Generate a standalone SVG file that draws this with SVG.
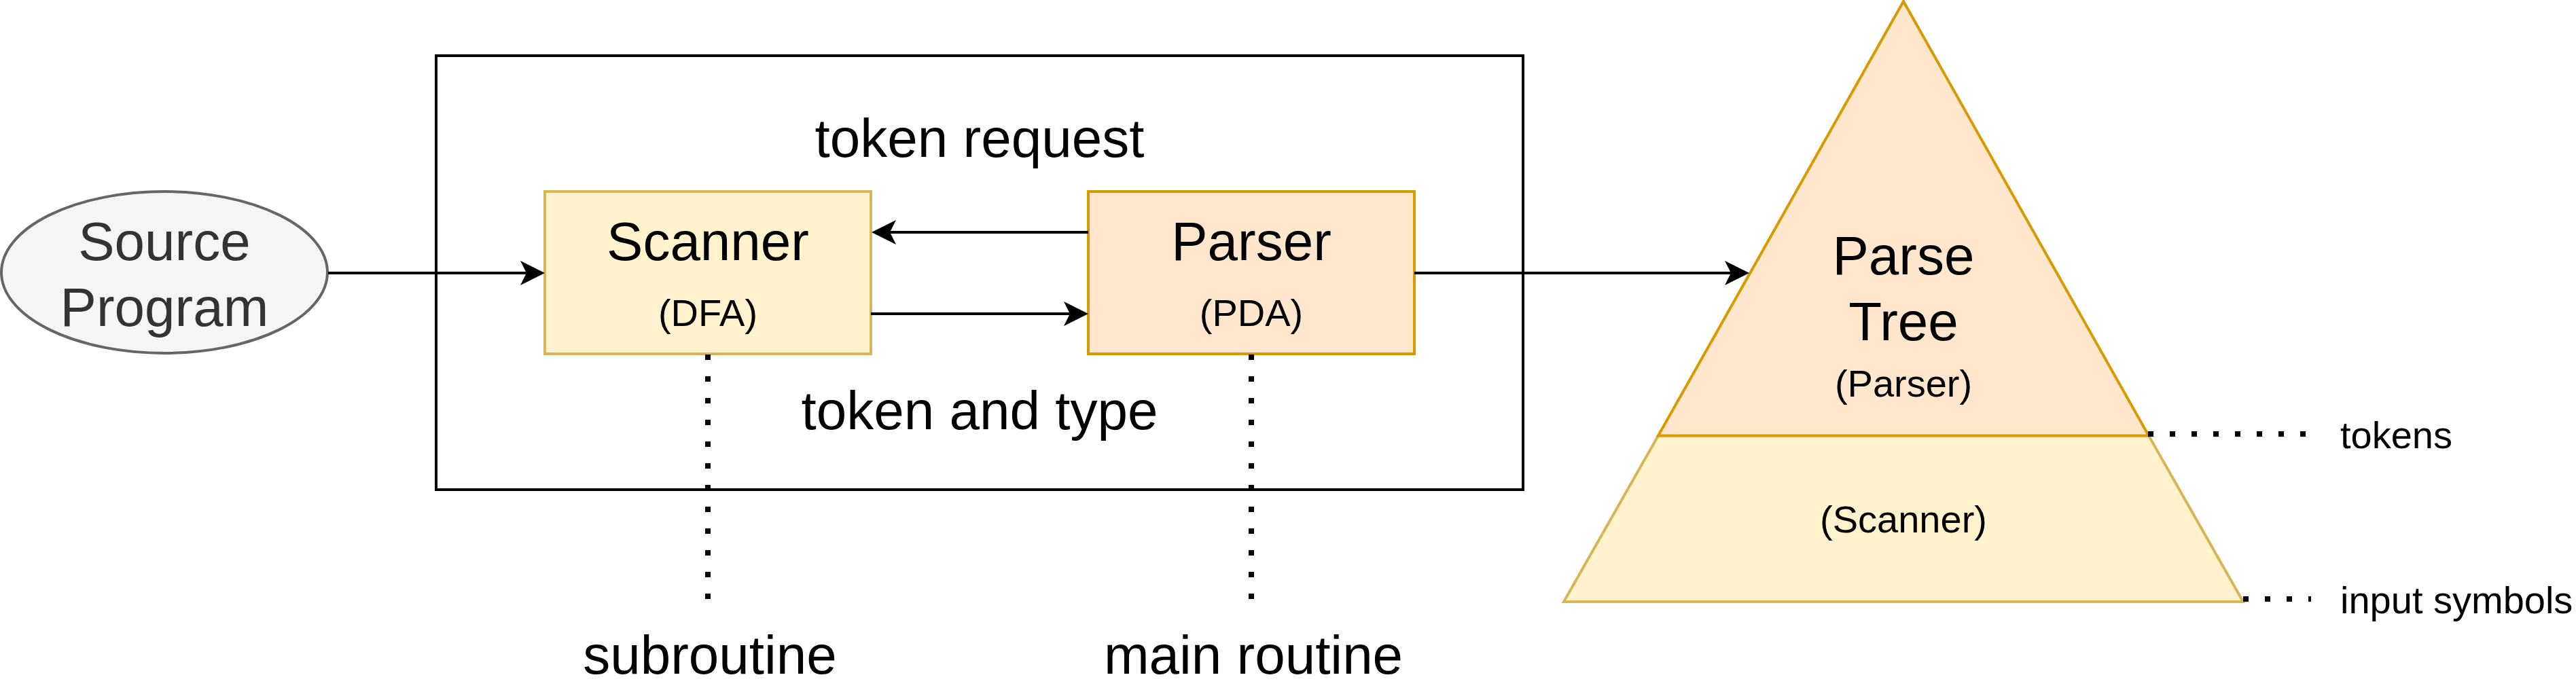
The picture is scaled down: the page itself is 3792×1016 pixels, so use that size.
<svg xmlns="http://www.w3.org/2000/svg" width="3792" height="1016" viewBox="0 0 3792 1016">
  <style>
    .t { font-family: "Liberation Sans", Arial, sans-serif; text-anchor: middle; fill: #000000; }
    .big { font-size: 80px; }
    .small { font-size: 56px; }
    .left { text-anchor: start; }
    .edge { stroke: #000000; stroke-width: 4; fill: none; }
    .dot { stroke: #000000; stroke-width: 8; fill: none; stroke-dasharray: 8 24; }
    .yellow { fill: #fff2cc; stroke: #d6b656; stroke-width: 4; }
    .orange { fill: #ffe6cc; stroke: #d79b00; stroke-width: 4; }
  </style>
  <defs>
    <marker id="arrow" markerUnits="userSpaceOnUse" viewBox="0 0 36 36" markerWidth="36" markerHeight="36" refX="9" refY="18" orient="auto">
      <path d="M36,18 L0,0 L9,18 L0,36 Z" fill="#000000"/>
    </marker>
  </defs>
  <rect width="3792" height="1016" fill="#ffffff"/>

  <g id="container">
    <rect x="642" y="82" width="1600" height="639" fill="none" stroke="#000000" stroke-width="4"/>
  </g>

  <g id="source-program">
    <ellipse cx="242" cy="401" rx="240" ry="119" fill="#f5f5f5" stroke="#666666" stroke-width="4"/>
    <text class="t big" x="242" y="383" fill="#333333" style="fill:#333333">Source</text>
    <text class="t big" x="242" y="480" style="fill:#333333">Program</text>
  </g>

  <g id="scanner">
    <rect class="yellow" x="802" y="282" width="480" height="239"/>
    <text class="t big" x="1042" y="383">Scanner</text>
    <text class="t small" x="1042" y="480">(DFA)</text>
  </g>

  <g id="parser">
    <rect class="orange" x="1602" y="282" width="480" height="239"/>
    <text class="t big" x="1842" y="383">Parser</text>
    <text class="t small" x="1842" y="480">(PDA)</text>
  </g>

  <g id="label-token-request">
    <text class="t big" x="1442" y="231">token request</text>
  </g>
  <g id="label-token-and-type">
    <text class="t big" x="1442" y="632">token and type</text>
  </g>
  <g id="label-subroutine">
    <text class="t big" x="1045" y="992">subroutine</text>
  </g>
  <g id="label-main-routine">
    <text class="t big" x="1845" y="992">main routine</text>
  </g>

  <g id="scanner-layer">
    <polygon class="yellow" points="2441,641.5 3163,641.5 3302,886 2302,886"/>
    <text class="t small" x="2802" y="784">(Scanner)</text>
  </g>

  <g id="parse-tree">
    <polygon class="orange" points="2802,2 3163,641.5 2441,641.5"/>
    <text class="t big" x="2802" y="404">Parse</text>
    <text class="t big" x="2802" y="501">Tree</text>
    <text class="t small" x="2802" y="584">(Parser)</text>
  </g>

  <g id="label-tokens">
    <text class="t small left" x="3445" y="660">tokens</text>
  </g>
  <g id="label-input-symbols">
    <text class="t small left" x="3445" y="903">input symbols</text>
  </g>

  <g id="connectors">
    <line class="edge" x1="483" y1="402" x2="775" y2="402" marker-end="url(#arrow)"/>
    <line class="edge" x1="1602" y1="342" x2="1310" y2="342" marker-end="url(#arrow)"/>
    <line class="edge" x1="1282" y1="462" x2="1575" y2="462" marker-end="url(#arrow)"/>
    <line class="edge" x1="2082" y1="402" x2="2548" y2="402" marker-end="url(#arrow)"/>
    <line class="dot" x1="1042" y1="522" x2="1042" y2="883"/>
    <line class="dot" x1="1842" y1="522" x2="1842" y2="883"/>
    <line class="dot" x1="3162" y1="639" x2="3394" y2="639"/>
    <line class="dot" x1="3302" y1="882" x2="3402" y2="882"/>
  </g>
</svg>
